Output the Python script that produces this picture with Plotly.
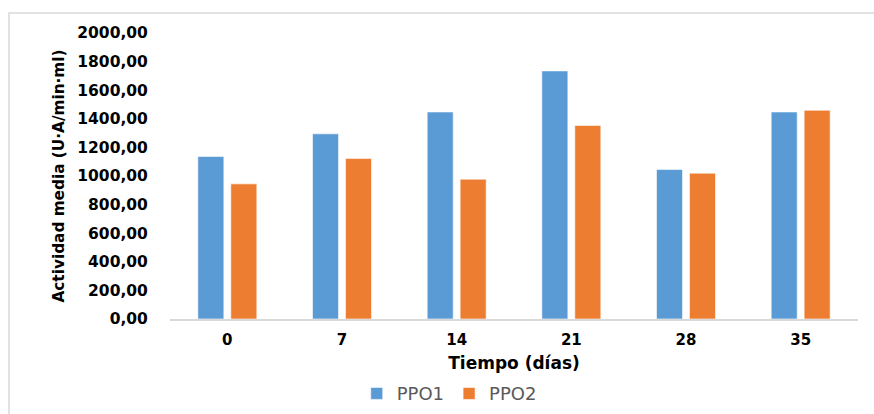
import plotly.graph_objects as go

# Actividad media de las polifenoloxidasas a lo largo del almacenamiento
dias = ["0", "7", "14", "21", "28", "35"]
ppo1 = [1137, 1295, 1448, 1735, 1046, 1448]
ppo2 = [945, 1123, 978, 1354, 1020, 1460]
y_ticks = [0, 200, 400, 600, 800, 1000, 1200, 1400, 1600, 1800, 2000]

AZUL = "#5B9BD5"
NARANJA = "#ED7D31"
FUENTE = "DejaVu Sans"

fig = go.Figure()
fig.add_trace(go.Bar(name="PPO1", x=dias, y=ppo1, marker=dict(color=AZUL, line=dict(color="rgba(255,255,255,0.6)", width=1))))
fig.add_trace(go.Bar(name="PPO2", x=dias, y=ppo2, marker=dict(color=NARANJA, line=dict(color="rgba(255,255,255,0.6)", width=1))))

fig.update_layout(
    width=874, height=414,
    margin=dict(l=170, r=16, t=33, b=95, autoexpand=False),
    paper_bgcolor="white", plot_bgcolor="white",
    barmode="group", bargap=0.425, bargroupgap=0.21,
    separators=",.",
    font=dict(family=FUENTE, color="#000000"),
    showlegend=True,
    legend=dict(orientation="h", xref="container", yref="container",
                x=0.514, xanchor="center", y=0.049, yanchor="middle",
                font=dict(family=FUENTE, size=18, color="#595959"),
                itemwidth=30, traceorder="normal"),
    shapes=[dict(type="rect", xref="paper", yref="paper", x0=-0.234, x1=1.05, y0=-0.4, y1=1.07,
                 line=dict(color="#D9D9D9", width=1.5), fillcolor="rgba(0,0,0,0)", layer="below")],
)

fig.update_xaxes(
    showline=True, linecolor="#D9D9D9", linewidth=1.5,
    ticks="outside", ticklen=6, tickcolor="rgba(0,0,0,0)",
    tickfont=dict(family=FUENTE, size=15, color="#000000", weight="bold"),
    title=dict(text="<b>Tiempo (días)</b>", font=dict(family=FUENTE, size=17, color="#000000"), standoff=9),
)
fig.update_yaxes(
    range=[0, 2000], tickvals=y_ticks, tickformat=".2f",
    showgrid=False, zeroline=False, showline=False,
    ticks="outside", ticklen=18, tickcolor="rgba(0,0,0,0)",
    tickfont=dict(family=FUENTE, size=15.5, color="#000000", weight="bold"),
    title=dict(text="<b>Actividad media (U·A/min·ml)</b>", font=dict(family=FUENTE, size=15.3, color="#000000"), standoff=8),
)

fig.write_html("out.html")
